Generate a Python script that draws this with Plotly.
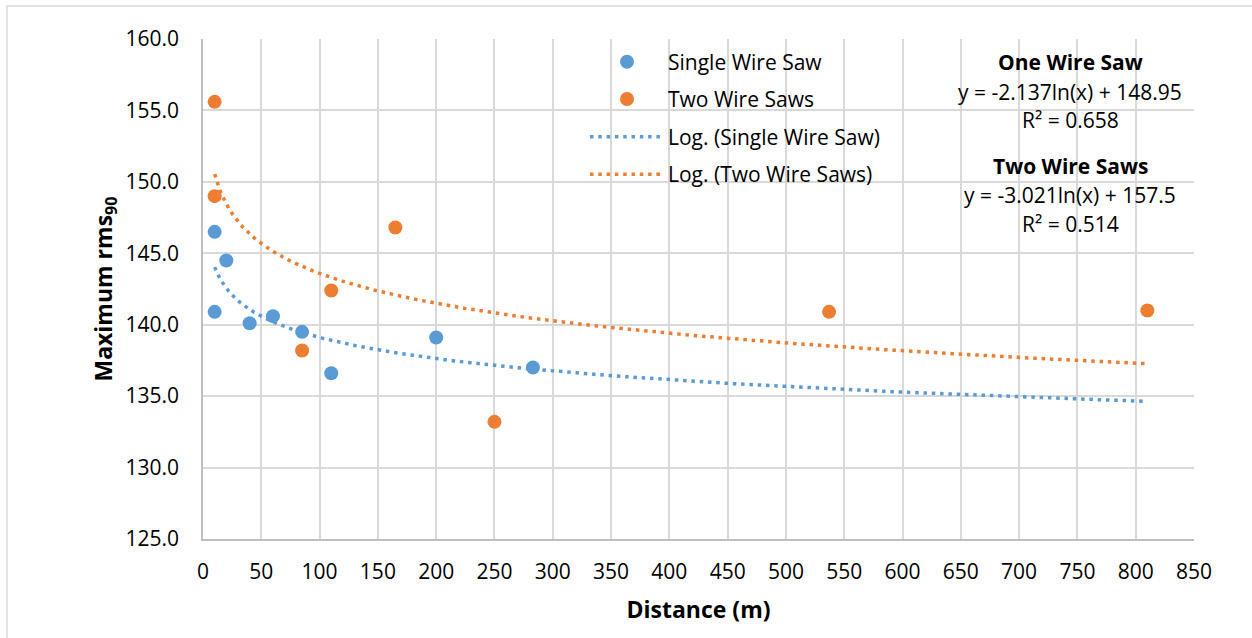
import numpy as np
import plotly.graph_objects as go

# Measured maximum rms90 levels against distance
single_x = [10, 10, 20, 40, 60, 85, 110, 200, 283]
single_y = [146.5, 140.9, 144.5, 140.1, 140.6, 139.5, 136.6, 139.1, 137.0]

two_x = [10, 10, 85, 110, 165, 250, 537, 810]
two_y = [155.6, 149.0, 138.2, 142.4, 146.8, 133.2, 140.9, 141.0]

# Logarithmic trendline coefficients: y = a*ln(x) + b
single_fit = {"a": -2.137, "b": 148.95, "r2": 0.658}
two_fit = {"a": -3.021, "b": 157.5, "r2": 0.514}
trend_range = [10, 810]

x_ticks = list(range(0, 851, 50))
y_ticks = [125.0, 130.0, 135.0, 140.0, 145.0, 150.0, 155.0, 160.0]

BLUE = "#5b9bd5"
ORANGE = "#ed7d31"
GRID = "#d9d9d9"
AXIS = "#bfbfbf"
FONT = "Open Sans"
TXT = 21

W, H = 1252, 638
ML, MR, MT, MB = 203, 58, 39, 99
PW, PH = W - ML - MR, H - MT - MB


def px(x):
    return (x - ML) / PW


def py(y):
    return (H - MB - y) / PH


xt = np.linspace(trend_range[0], trend_range[1], 400)

fig = go.Figure()
fig.add_trace(go.Scatter(
    x=xt, y=single_fit["a"] * np.log(xt) + single_fit["b"], mode="lines",
    line=dict(color=BLUE, width=3.5, dash="3.5px,4.8px"), showlegend=False,
    hoverinfo="skip"))
fig.add_trace(go.Scatter(
    x=xt, y=two_fit["a"] * np.log(xt) + two_fit["b"], mode="lines",
    line=dict(color=ORANGE, width=3.5, dash="3.5px,4.8px"), showlegend=False,
    hoverinfo="skip"))
fig.add_trace(go.Scatter(
    x=single_x, y=single_y, mode="markers", name="Single Wire Saw",
    marker=dict(color=BLUE, size=14), showlegend=False))
fig.add_trace(go.Scatter(
    x=two_x, y=two_y, mode="markers", name="Two Wire Saws",
    marker=dict(color=ORANGE, size=14), showlegend=False))

shapes = []
annotations = []

# Outer chart frame
shapes.append(dict(type="rect", xref="paper", yref="paper",
                   x0=px(7), x1=px(1262), y0=py(648), y1=py(6),
                   line=dict(color=GRID, width=1.5), layer="below"))

# Legend block
legend_rows = [
    ("marker", BLUE, "Single Wire Saw", 61.7),
    ("marker", ORANGE, "Two Wire Saws", 99.0),
    ("line", BLUE, "Log. (Single Wire Saw)", 136.7),
    ("line", ORANGE, "Log. (Two Wire Saws)", 174.3),
]
for kind, col, label, yc in legend_rows:
    if kind == "marker":
        shapes.append(dict(type="circle", xref="paper", yref="paper",
                           x0=px(627 - 7), x1=px(627 + 7),
                           y0=py(yc + 7), y1=py(yc - 7),
                           fillcolor=col, line=dict(width=0)))
    else:
        shapes.append(dict(type="line", xref="paper", yref="paper",
                           x0=px(590), x1=px(661), y0=py(yc), y1=py(yc),
                           line=dict(color=col, width=3.5, dash="3.5px,4.8px")))
    annotations.append(dict(xref="paper", yref="paper", x=px(666), y=py(yc),
                            xanchor="left", yanchor="middle", showarrow=False,
                            text=label, font=dict(family=FONT, size=TXT, color="#000")))

# Trendline equations
eq_lines = [
    ("<b>One Wire Saw</b>", 61.7),
    ("y = {:.3f}ln(x) + {:.2f}".format(single_fit["a"], single_fit["b"]), 91.7),
    ("R² = {:.3f}".format(single_fit["r2"]), 120.0),
    ("<b>Two Wire Saws</b>", 166.0),
    ("y = {:.3f}ln(x) + {:g}".format(two_fit["a"], two_fit["b"]), 195.0),
    ("R² = {:.3f}".format(two_fit["r2"]), 223.5),
]
for text, yc in eq_lines:
    annotations.append(dict(xref="paper", yref="paper", x=px(1070), y=py(yc),
                            xanchor="center", yanchor="middle", showarrow=False,
                            text=text, font=dict(family=FONT, size=TXT, color="#000")))

fig.update_layout(
    width=W, height=H, autosize=False,
    margin=dict(l=ML, r=MR, t=MT, b=MB, pad=0),
    paper_bgcolor="white", plot_bgcolor="white",
    font=dict(family=FONT, size=TXT, color="#000"),
    shapes=shapes, annotations=annotations,
    showlegend=False,
)
fig.update_xaxes(
    range=[0, 850], tickvals=x_ticks, ticktext=[str(v) for v in x_ticks],
    showgrid=True, gridcolor=GRID, gridwidth=1.5,
    showline=True, linecolor=AXIS, linewidth=1.5, zeroline=False,
    ticks="", ticklabelstandoff=13,
    tickfont=dict(family=FONT, size=TXT),
    title=dict(text="<b>Distance (m)</b>", font=dict(family=FONT, size=23), standoff=18),
)
fig.update_yaxes(
    range=[125, 160], tickvals=y_ticks, ticktext=["{:.1f}".format(v) for v in y_ticks],
    showgrid=True, gridcolor=GRID, gridwidth=1.5,
    showline=True, linecolor=AXIS, linewidth=1.5, zeroline=False,
    ticks="", ticklabelstandoff=18,
    tickfont=dict(family=FONT, size=TXT),
    title=dict(text="<b>Maximum rms<sub>90</sub></b>", font=dict(family=FONT, size=23), standoff=6),
)

fig.write_html("out.html")
